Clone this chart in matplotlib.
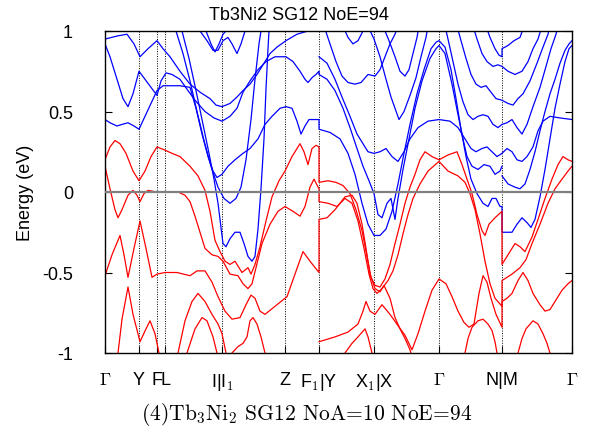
import matplotlib
matplotlib.use("Agg")
import matplotlib.pyplot as plt

plt.rcParams['font.family'] = ['Liberation Sans', 'DejaVu Sans']
plt.rcParams['mathtext.fontset'] = 'cm'

# high-symmetry points along the k-path
k_ticks = [0, 34, 52, 60, 117, 180, 214, 269, 334, 397, 467]
k_labels = [r'$\Gamma$', 'Y', 'F', 'L', r'I|I$_1$', 'Z', r'F$_1$|Y',
            r'X$_1$|X', r'$\Gamma$', 'N|M', r'$\Gamma$']

# ---- segment Gamma -> F1 (k 0..214) ----
blue_1 = [(0, 0.95), (13, 0.97), (22, 0.98), (29, 0.92), (35, 0.84), (43, 0.89), (52, 0.94),
          (58, 0.89), (65, 0.84), (75, 0.75), (85, 0.67), (95, 0.62), (105, 0.58), (111, 0.54),
          (117, 0.53), (125, 0.55), (132, 0.59), (138, 0.63), (145, 0.67), (152, 0.73),
          (159, 0.80), (165, 0.86), (172, 0.90), (181, 0.94), (192, 0.98), (203, 1.00), (210, 1.03)]
blue_2 = [(0, 0.92), (5, 0.84), (12, 0.70), (18, 0.58), (23, 0.53), (28, 0.61), (34, 0.75),
          (40, 0.70), (46, 0.65), (52, 0.60), (56, 0.69), (61, 0.74), (67, 0.73), (75, 0.70),
          (83, 0.63), (90, 0.57), (100, 0.50), (109, 0.46), (117, 0.44), (125, 0.47), (132, 0.52),
          (138, 0.62), (145, 0.69), (153, 0.76), (161, 0.81), (170, 0.84), (181, 0.84),
          (188, 0.81), (195, 0.75), (200, 0.70), (203, 0.68), (207, 0.71), (211, 0.73), (214, 0.75)]
blue_3 = [(0, 0.45), (5, 0.43), (12, 0.41), (17, 0.42), (23, 0.43), (29, 0.41), (34, 0.39),
          (40, 0.47), (46, 0.55), (52, 0.63), (58, 0.66), (65, 0.66), (75, 0.66), (85, 0.65),
          (91, 0.52), (97, 0.36), (103, 0.22), (108, 0.13), (112, 0.09), (117, 0.11), (123, 0.16),
          (130, 0.20), (138, 0.24), (145, 0.27), (153, 0.33), (160, 0.42), (167, 0.47),
          (175, 0.52), (181, 0.53), (187, 0.52), (192, 0.44), (196, 0.36), (200, 0.41),
          (204, 0.45), (209, 0.45), (214, 0.45)]
blue_4 = [(69, 1.04), (71, 1.00), (78, 0.86), (85, 0.69), (92, 0.50), (99, 0.32), (106, 0.16),
          (113, 0.03), (119, -0.04), (125, -0.07), (131, -0.04), (136, 0.03), (141, 0.20),
          (146, 0.45), (150, 0.70), (154, 0.92), (156, 1.00), (157, 1.04)]
blue_5 = [(76, 1.04), (77, 1.00), (84, 0.83), (91, 0.63), (98, 0.42), (104, 0.24), (109, 0.08),
          (113, -0.07), (116, -0.22), (118, -0.32), (121, -0.34), (125, -0.29), (130, -0.25),
          (135, -0.25), (139, -0.32), (143, -0.40), (147, -0.43), (150, -0.40), (153, -0.23),
          (156, 0.02), (159, 0.33), (161, 0.64), (163, 0.89), (164, 1.00), (165, 1.04)]
blue_6 = [(93, 1.04), (95, 1.00), (102, 0.94), (108, 0.88), (113, 0.88), (118, 0.94), (123, 0.96),
          (127, 0.92), (132, 0.86), (136, 0.92), (140, 1.00), (141, 1.04)]
blue_7 = [(99, 1.04), (101, 1.00), (106, 0.92), (110, 0.87), (114, 0.92), (118, 0.98),
          (121, 1.00), (122, 1.04)]

red_1 = [(0, 0.20), (5, 0.28), (10, 0.32), (15, 0.30), (21, 0.24), (28, 0.13), (34, 0.07),
         (40, 0.13), (46, 0.22), (52, 0.28), (60, 0.26), (67, 0.24), (75, 0.22), (85, 0.16),
         (93, 0.10), (100, 0.01), (105, -0.12), (110, -0.30), (115, -0.37), (120, -0.43),
         (125, -0.45), (130, -0.43), (137, -0.50), (143, -0.47), (146, -0.51), (150, -0.45),
         (155, -0.34), (161, -0.18), (167, -0.03), (174, 0.07), (180, 0.13), (187, 0.22),
         (195, 0.30), (199, 0.25), (203, 0.17), (207, 0.27), (211, 0.29), (214, 0.28)]
red_2 = [(0, 0.16), (5, 0.02), (10, -0.11), (13, -0.16), (17, -0.11), (23, -0.02), (28, 0.01),
         (32, -0.02), (35, -0.06), (39, -0.01), (43, 0.01), (52, 0.0), (73, 0.0), (80, -0.02),
         (85, -0.06), (90, -0.15), (95, -0.25), (100, -0.35), (107, -0.39), (113, -0.40),
         (118, -0.43), (125, -0.51), (133, -0.52), (138, -0.57), (143, -0.60), (147, -0.57),
         (151, -0.47), (157, -0.32), (165, -0.20), (173, -0.12), (180, -0.09), (188, -0.12),
         (195, -0.15), (200, -0.09), (205, 0.03), (209, 0.08), (214, 0.02)]
red_3 = [(0, -0.52), (7, -0.39), (15, -0.27), (19, -0.39), (23, -0.53), (29, -0.35), (35, -0.18),
         (41, -0.35), (47, -0.53), (52, -0.51), (60, -0.50), (72, -0.50), (85, -0.52),
         (92, -0.49), (100, -0.49), (107, -0.56), (113, -0.65), (120, -0.74), (127, -0.79),
         (135, -0.78), (141, -0.70), (146, -0.64), (150, -0.66), (155, -0.74), (160, -0.76),
         (170, -0.71), (182, -0.65), (190, -0.51), (198, -0.37), (205, -0.43), (214, -0.50)]
red_4 = [(12, -1.05), (13, -1.0), (17, -0.79), (23, -0.59), (28, -0.76), (35, -0.93), (41, -0.85),
         (45, -0.80), (50, -0.88), (54, -1.0), (55, -1.05)]
red_5 = [(72, -1.05), (73, -1.0), (80, -0.80), (87, -0.68), (93, -0.63), (100, -0.68),
         (107, -0.76), (113, -0.82), (117, -0.88), (121, -1.0), (122, -1.05)]
red_6 = [(81, -1.05), (82, -1.0), (90, -0.85), (97, -0.78), (102, -0.80), (108, -0.90),
         (112, -1.0), (113, -1.05)]
red_7 = [(126, -1.05), (127, -1.0), (133, -0.96), (138, -0.94), (142, -0.90), (145, -0.80),
         (148, -0.78), (152, -0.82), (156, -0.90), (160, -1.0), (161, -1.05)]

# ---- segment F1 -> N (k 214..397) ----
blue_8 = [(214, 0.39), (225, 0.37), (235, 0.33), (243, 0.24), (250, 0.11), (257, -0.07),
          (263, -0.20), (269, -0.27), (275, -0.27), (281, -0.23), (287, -0.12), (293, 0.05),
          (299, 0.24), (305, 0.42), (312, 0.61), (319, 0.76), (326, 0.89), (331, 0.93),
          (334, 0.94), (340, 0.90), (346, 0.76), (351, 0.58), (356, 0.39), (361, 0.22),
          (366, 0.08), (372, -0.01), (378, -0.07), (383, -0.09), (387, -0.04), (391, -0.04),
          (395, -0.09), (397, -0.09)]
blue_9 = [(214, 0.73), (222, 0.70), (230, 0.63), (238, 0.52), (245, 0.40), (252, 0.27),
          (258, 0.16), (264, 0.07), (269, -0.01), (273, -0.14), (277, -0.16), (282, -0.07),
          (286, -0.04), (290, -0.17), (293, -0.04), (298, 0.14), (304, 0.33), (310, 0.52),
          (317, 0.69), (325, 0.83), (331, 0.89), (334, 0.91), (340, 0.86), (347, 0.67),
          (353, 0.48), (358, 0.33), (362, 0.22), (367, 0.16), (373, 0.14), (379, 0.17),
          (385, 0.16), (390, 0.11), (395, 0.13), (397, 0.16)]
blue_10 = [(214, 0.84), (222, 0.80), (230, 0.70), (237, 0.59), (245, 0.47), (252, 0.36),
           (258, 0.30), (263, 0.25), (269, 0.24), (275, 0.25), (281, 0.27), (287, 0.22),
           (293, 0.19), (299, 0.25), (305, 0.33), (313, 0.40), (323, 0.44), (334, 0.45),
           (345, 0.44), (353, 0.40), (360, 0.33), (366, 0.27), (371, 0.25), (377, 0.27),
           (382, 0.28), (387, 0.25), (392, 0.22), (397, 0.24)]
blue_11 = [(219, 1.03), (225, 0.92), (231, 0.81), (237, 0.72), (243, 0.68), (250, 0.67),
           (256, 0.68), (263, 0.73), (270, 0.72), (275, 0.76), (280, 0.84), (285, 0.92),
           (290, 0.98), (293, 1.03)]
blue_12 = [(238, 1.03), (243, 0.96), (248, 0.92), (253, 0.94), (258, 1.00), (260, 1.03)]
blue_13 = [(263, 1.03), (269, 0.95), (275, 0.84), (281, 0.70), (286, 0.59), (290, 0.52),
           (294, 0.45), (299, 0.50), (305, 0.60), (311, 0.71), (316, 0.84), (321, 0.96), (323, 1.03)]
blue_14 = [(278, 1.03), (284, 0.94), (290, 0.84), (295, 0.75), (300, 0.72), (304, 0.76),
           (308, 0.86), (312, 0.96), (314, 1.03)]
blue_15 = [(340, 1.03), (343, 0.95), (348, 0.81), (353, 0.67), (358, 0.56), (363, 0.48),
           (368, 0.45), (373, 0.47), (378, 0.48), (383, 0.47), (388, 0.42), (393, 0.40), (397, 0.42)]
blue_16 = [(352, 1.03), (356, 0.94), (361, 0.83), (366, 0.73), (371, 0.67), (376, 0.65),
           (381, 0.66), (386, 0.62), (391, 0.58), (397, 0.57)]
blue_17 = [(368, 1.03), (372, 0.95), (377, 0.86), (382, 0.81), (388, 0.78), (393, 0.79), (397, 0.78)]
blue_18 = [(381, 1.03), (385, 0.96), (390, 0.89), (394, 0.85), (397, 0.84)]

red_8 = [(214, 0.06), (223, 0.07), (231, 0.06), (238, 0.04), (245, -0.01), (251, -0.11),
         (257, -0.24), (262, -0.40), (266, -0.53), (270, -0.58), (275, -0.59), (280, -0.54),
         (285, -0.45), (290, -0.32), (295, -0.20), (300, -0.07), (305, 0.03), (310, 0.11),
         (315, 0.20), (320, 0.25), (327, 0.22), (334, 0.20), (343, 0.23), (352, 0.25),
         (357, 0.17), (362, 0.08), (367, -0.01), (372, -0.14), (377, -0.24), (380, -0.27),
         (384, -0.20), (390, -0.16), (397, -0.12)]
red_9 = [(214, -0.06), (223, -0.07), (232, -0.09), (240, -0.04), (247, -0.07), (253, -0.18),
         (259, -0.35), (264, -0.51), (268, -0.60), (272, -0.63), (277, -0.60), (283, -0.55),
         (288, -0.49), (293, -0.39), (298, -0.26), (303, -0.14), (308, -0.04), (315, 0.05),
         (323, 0.13), (334, 0.19), (343, 0.13), (353, 0.10), (360, 0.06), (365, -0.01),
         (370, -0.11), (375, -0.26), (380, -0.43), (385, -0.57), (390, -0.66), (397, -0.71)]
red_10 = [(214, -0.17), (222, -0.16), (230, -0.11), (240, -0.03), (247, -0.02), (252, -0.07),
          (257, -0.20), (261, -0.35), (265, -0.51), (270, -0.60), (275, -0.62), (279, -0.58),
          (285, -0.66), (290, -0.78), (295, -0.85), (300, -0.91), (305, -0.98), (308, -1.05)]
red_11 = [(214, -0.93), (230, -0.90), (243, -0.87), (253, -0.82), (258, -0.74), (261, -0.68),
          (265, -0.74), (270, -0.76), (277, -0.70), (285, -0.76), (293, -0.83), (300, -0.89),
          (307, -0.98), (313, -0.88), (320, -0.74), (327, -0.61), (334, -0.54), (341, -0.57),
          (347, -0.65), (353, -0.74), (359, -0.81), (364, -0.84), (369, -0.82), (374, -0.63),
          (378, -0.52), (382, -0.56), (386, -0.66), (391, -0.76), (397, -0.84)]
red_12 = [(239, -1.05), (240, -1.0), (247, -0.94), (253, -0.90), (260, -0.85), (263, -0.90),
          (267, -1.0), (268, -1.05)]
red_13 = [(359, -1.05), (360, -1.0), (363, -0.91), (367, -0.84), (373, -0.80), (378, -0.79),
          (383, -0.82), (387, -0.86), (390, -0.93), (392, -1.0), (393, -1.05)]

# ---- segment M -> Gamma (k 397..467) ----
blue_19 = [(397, -0.25), (402, -0.25), (407, -0.25), (412, -0.20), (417, -0.16), (422, -0.19),
           (426, -0.22), (430, -0.17), (435, -0.03), (440, 0.14), (445, 0.33), (450, 0.52),
           (455, 0.67), (460, 0.81), (464, 0.89), (467, 0.91)]
blue_20 = [(397, 0.10), (403, 0.05), (410, 0.03), (415, 0.02), (420, 0.05), (425, 0.14),
           (430, 0.25), (435, 0.38), (440, 0.50), (445, 0.61), (450, 0.70), (455, 0.80),
           (460, 0.88), (464, 0.92), (467, 0.94)]
blue_21 = [(397, 0.24), (402, 0.27), (407, 0.25), (412, 0.20), (417, 0.19), (422, 0.22),
           (428, 0.28), (433, 0.38), (438, 0.44), (445, 0.47), (455, 0.46), (467, 0.45)]
blue_22 = [(397, 0.42), (402, 0.43), (407, 0.45), (412, 0.40), (417, 0.36), (422, 0.42),
           (428, 0.53), (435, 0.65), (441, 0.78), (446, 0.89), (451, 0.98), (453, 1.03)]
blue_23 = [(397, 0.57), (403, 0.55), (408, 0.54), (413, 0.58), (418, 0.61), (425, 0.69),
           (432, 0.80), (438, 0.90), (443, 0.98), (445, 1.03)]
blue_24 = [(397, 0.78), (403, 0.75), (410, 0.73), (417, 0.75), (423, 0.81), (428, 0.89),
           (433, 0.95), (437, 1.03)]
blue_25 = [(397, 0.89), (403, 0.91), (409, 0.94), (415, 0.96), (419, 1.03)]

red_14 = [(397, -0.45), (403, -0.39), (410, -0.32), (415, -0.34), (420, -0.37), (427, -0.28),
          (433, -0.17), (440, -0.04), (447, 0.08), (453, 0.17), (458, 0.22), (463, 0.20), (467, 0.19)]
red_15 = [(397, -0.55), (407, -0.51), (415, -0.47), (421, -0.42), (427, -0.32), (435, -0.20),
          (443, -0.07), (450, 0.02), (457, 0.08), (463, 0.13), (467, 0.16)]
red_16 = [(397, -0.68), (402, -0.66), (407, -0.63), (413, -0.55), (418, -0.50), (423, -0.55),
          (428, -0.63), (435, -0.70), (440, -0.74), (445, -0.73), (450, -0.68), (457, -0.61),
          (463, -0.57), (467, -0.55)]
red_17 = [(412, -1.05), (413, -1.0), (417, -0.91), (421, -0.85), (428, -0.80), (433, -0.82),
          (438, -0.88), (442, -0.94), (445, -1.0), (446, -1.05)]

# bands joined across the F1|Y and N|M breaks (gives the vertical jumps)
blue_chains = [[blue_1], [blue_2, blue_9], [blue_3, blue_8, blue_19], [blue_4], [blue_5],
               [blue_6], [blue_7], [blue_10, blue_21], [blue_11], [blue_12], [blue_13],
               [blue_14], [blue_15, blue_22], [blue_16, blue_23], [blue_17, blue_24],
               [blue_18, blue_25], [blue_20]]
red_chains = [[red_1, red_8, red_14], [red_2, red_9, red_15], [red_3, red_10], [red_4],
              [red_5], [red_6], [red_7], [red_11, red_16], [red_12], [red_13], [red_17]]

fig = plt.figure(figsize=(5.89, 4.39), dpi=100)
ax = fig.add_axes([105/589, 85/439, 467/589, 322/439])

for chain in blue_chains:
    kk, ee = zip(*[p for band in chain for p in band])
    ax.plot(kk, ee, color='#0000ff', lw=0.9)
for chain in red_chains:
    kk, ee = zip(*[p for band in chain for p in band])
    ax.plot(kk, ee, color='#ff0000', lw=0.9)

for kt in k_ticks[1:-1]:
    ax.axvline(kt, color='black', ls=(0, (1, 1.5)), lw=0.7, zorder=1)
ax.axhline(0, color='#808080', lw=1.6, zorder=3)

ax.set_xlim(0, 467)
ax.set_ylim(-1, 1)
ax.set_xticks(k_ticks)
ax.set_xticklabels(k_labels, fontsize=13)
ax.set_yticks([-1, -0.5, 0, 0.5, 1])
ax.set_yticklabels(['-1', '-0.5', '0', '0.5', '1'], fontsize=13)
ax.tick_params(axis='y', direction='in', right=True, length=5, pad=23)
ax.tick_params(axis='x', direction='in', length=5, pad=13)
for sp in ax.spines.values():
    sp.set_linewidth(1.0)

fig.text(299/589, 1 - 15/439, 'Tb3Ni2 SG12 NoE=94', ha='center', va='center', fontsize=13)
fig.text(25/589, 1 - 193/439, 'Energy (eV)', ha='center', va='center', rotation=90, fontsize=13)
fig.text(307/589, 1 - 415/439, '(4)Tb$_3$Ni$_2$ SG12 NoA=10 NoE=94',
         ha='center', va='center', fontsize=15.5, family='cmr10')

fig.savefig('out.png', dpi=100)
